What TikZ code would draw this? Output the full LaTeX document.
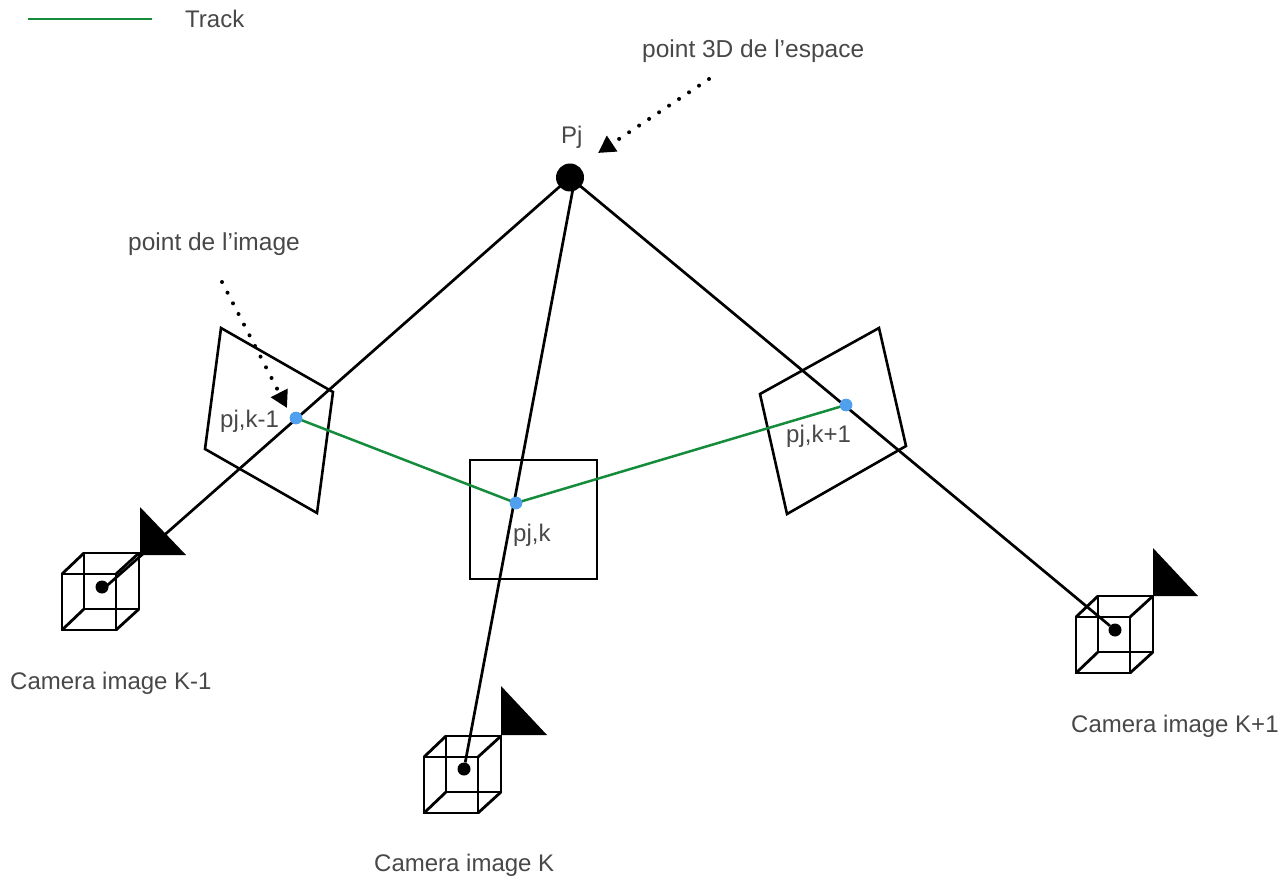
\documentclass[tikz,border=0pt]{standalone}
\usepackage{fontspec}
\setmainfont{Liberation Sans}
\usetikzlibrary{arrows.meta}
\definecolor{txt}{RGB}{72,72,72}
\definecolor{trk}{RGB}{20,140,60}
\definecolor{ptb}{RGB}{80,160,240}
\tikzset{
 ray/.style={line width=2.7pt,black},
 box/.style={line width=2.6pt,black,line join=miter},
 wire/.style={line width=2.8pt,black},
 track/.style={line width=2.5pt,trk},
 lbl/.style={inner sep=0pt,text=txt,font=\fontsize{24}{28}\selectfont,anchor=base west},
 lblw/.style={lbl,font=\fontsize{24.5}{28}\selectfont},
 imgpt/.style={circle,fill=ptb,inner sep=0pt,minimum size=12.5pt},
 camdot/.style={circle,fill=black,inner sep=0pt,minimum size=13pt},
 dotarrow/.style={line width=4pt,line cap=round,dash pattern=on 0pt off 12pt,
   -{Triangle[length=17pt,width=18pt]}}
}
\newcommand{\cam}[3]{% name, x of front-top-left, y
 \begin{scope}[shift={(#2,#3)}]
  \draw[wire] (0,0) rectangle (54,56);
  \draw[wire] (22,-21) rectangle (77,35);
  \draw[wire] (0,0)--(22,-21) (54,0)--(77,-21) (0,56)--(22,35) (54,56)--(77,35);
 \end{scope}}
\begin{document}
\begin{tikzpicture}[x=1pt,y=-1pt]
\useasboundingbox (0,0) rectangle (1288,877);
\fill[white] (0,0) rectangle (1288,877);
% legend
\coordinate (la) at (28,19); \coordinate (lb) at (152,19);
\draw[track] (la)--(lb);
\node[lbl] (tracklbl) at (185,28) {Track};
% planes
\draw[box] (221,328)--(333,392)--(317,513)--(205,449)--cycle;
\draw[box] (470,460) rectangle (597,579);
\draw[box] (879,328)--(906,446)--(787,514)--(760,394)--cycle;
% points
\node[circle,fill=black,inner sep=0pt,minimum width=28pt,minimum height=25pt] (P) at (570,177.5) {};
\coordinate (Pm) at (575,178);
\node[camdot] (c1) at (102,587) {};
\coordinate (c1e) at (102,590);
\node[camdot] (c2) at (464,769) {};
\node[camdot] (c3) at (1115,630) {};
% rays
\draw[ray] (P.center)--(c1e);
\draw[ray] (Pm)--(c2);
\draw[ray] (P.center)--(c3);
% cameras
\cam{a}{62}{574}
\cam{b}{424}{757}
\cam{c}{1076}{617}
\fill (140,507)--(186,555)--(140,555)--cycle;
\fill (501,686)--(547,735)--(501,735)--cycle;
\fill (1153,548)--(1198,596)--(1153,596)--cycle;
% track
\node[imgpt] (p1) at (296,418) {};
\node[imgpt] (p2) at (516,503) {};
\node[imgpt] (p3) at (846,405) {};
\draw[track] (p1.center)--(p2.center)--(p3.center);
\node[imgpt] at (p1) {};
\node[imgpt] at (p2) {};
\node[imgpt] at (p3) {};
% labels
\node[lbl] (Pj) at (561,144) {Pj};
\node[lblw] (l3d) at (642,58) {point 3D de l’espace};
\node[lblw] (lim) at (128,251) {point de l’image};
\node[lbl] (l1) at (220,427) {pj,k-1};
\node[lbl] (l2) at (513,541) {pj,k};
\node[lbl] (l3) at (786,442) {pj,k+1};
\node[lbl] (k1) at (10,689) {Camera image K-1};
\node[lbl] (k2) at (374,871) {Camera image K};
\node[lbl] (k3) at (1071,732) {Camera image K+1};
% dotted arrows
\coordinate (da) at (222,282); \coordinate (db) at (287,408);
\coordinate (dc) at (709,79); \coordinate (dd) at (598,153);
\draw[dotarrow] (da)--(db);
\draw[dotarrow] (dc)--(dd);
\end{tikzpicture}
\end{document}
